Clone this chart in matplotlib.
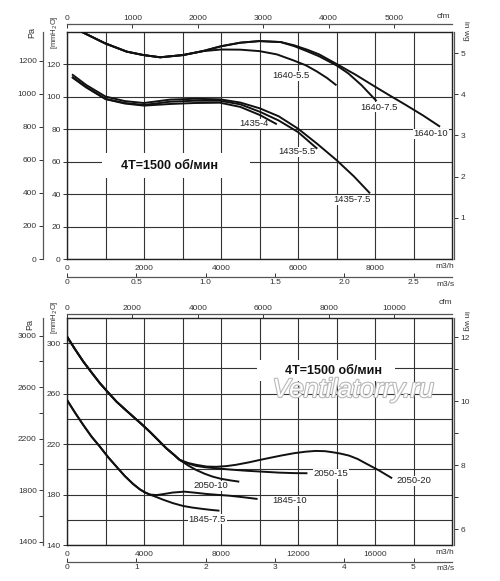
import matplotlib
matplotlib.use('Agg')
import matplotlib.pyplot as plt
from matplotlib.patches import Rectangle
import matplotlib.patheffects as pe

plt.rcParams['font.family'] = ['Liberation Sans', 'DejaVu Sans']

# ---------------- unit conversions ----------------
PA_PER_MM = 9.80665
MM_PER_INWG = 25.4
M3H_PER_CFM = 1.699011
M3H_PER_M3S = 3600.0

# ---------------- TOP CHART DATA (m3/h, mmH2O) ----------------
top_x_1640_55 = [390, 990, 1550, 1980, 2420, 3020, 3540, 4000, 4500, 5000, 5450, 5880, 6200, 6480, 6750, 7000]
top_y_1640_55 = [140, 133, 127.9, 125.8, 124.4, 125.8, 128.2, 129.2, 129.1, 128.2, 126.2, 122.5, 119.5, 115.8, 111.7, 107.1]
top_x_1640_75 = [390, 990, 1550, 1980, 2420, 3020, 3540, 4000, 4500, 5000, 5550, 5900, 6250, 6550, 7000, 7300, 7650, 8040]
top_y_1640_75 = [140, 133, 127.9, 125.8, 124.4, 125.8, 128.3, 131.2, 133.4, 134.4, 133.8, 131.3, 128.0, 125.0, 119.4, 114.6, 107.2, 97.4]
top_x_1640_10 = [390, 990, 1550, 1980, 2420, 3020, 3540, 4000, 4500, 5000, 5550, 5900, 6250, 6550, 7000, 7500, 8000, 8400, 8800, 9250, 9690]
top_y_1640_10 = [140, 133, 127.9, 125.8, 124.4, 125.8, 128.3, 131.2, 133.4, 134.4, 133.8, 131.8, 129.0, 126.2, 120.3, 113.6, 106.3, 100.6, 95.0, 88.5, 81.6]
top_x_1435_75 = [130, 500, 1000, 1500, 2000, 2675, 3300, 3970, 4500, 5010, 5500, 6000, 6500, 7000, 7450, 7870]
top_y_1435_75 = [113.9, 107.3, 100.2, 97.4, 96.2, 98.3, 98.8, 98.5, 96.5, 92.9, 88.0, 80.4, 71.0, 61.0, 51.0, 40.5]
top_x_1435_55 = [130, 500, 1000, 1500, 2000, 2675, 3300, 3970, 4500, 5010, 5500, 6000, 6500]
top_y_1435_55 = [112.4, 106.0, 98.8, 96.2, 95.0, 97.0, 97.6, 97.6, 95.4, 90.8, 85.4, 78.3, 68.0]
top_x_1435_4 = [130, 500, 1000, 1500, 2000, 2675, 3300, 3970, 4500, 5010, 5450]
top_y_1435_4 = [112.1, 105.8, 98.6, 95.9, 94.6, 95.6, 96.2, 96.4, 93.8, 88.8, 83.1]

top_names = ["1640-5.5", "1640-7.5", "1640-10", "1435-4", "1435-5.5", "1435-7.5"]
top_label_x = [5817, 8103, 9453, 4856, 5973, 7401]
top_label_y = [112.9, 93.7, 77.1, 83.3, 66.0, 36.4]

# ---------------- BOTTOM CHART DATA (m3/h, mmH2O) ----------------
x_2050_common = [0, 414, 844, 1276, 1708, 2139, 2570, 3002, 3433, 3865, 4295, 4727, 5158, 5590, 5850]
y_2050_common = [305.3, 295.3, 285.5, 276.8, 268.3, 260.9, 253.7, 247.7, 241.8, 236.0, 229.9, 223.3, 216.7, 211.1, 207.5]
x_2050_10 = x_2050_common + [6300, 6710, 7150, 7570, 8000, 8500, 8950]
y_2050_10 = y_2050_common + [203.0, 199.5, 196.5, 194.2, 192.5, 191.2, 190.2]
x_2050_15 = x_2050_common + [6300, 6710, 7200, 7750, 8500, 9300, 10200, 11000, 11800, 12490]
y_2050_15 = y_2050_common + [204.6, 202.7, 201.6, 200.8, 199.8, 198.9, 198.1, 197.4, 197.0, 196.9]
x_2050_20 = x_2050_common + [6300, 6710, 7250, 7750, 8300, 8780, 9470, 10000, 10600, 11150, 11800,
                             12400, 12920, 13400, 13780, 14200, 14650, 15100, 15510, 16200, 16890]
y_2050_20 = y_2050_common + [205.0, 203.6, 202.2, 202.0, 202.6, 203.6, 205.6, 207.4, 209.3, 211.0, 212.8,
                             214.0, 214.6, 214.4, 213.6, 212.5, 210.9, 208.2, 204.8, 199.2, 192.9]
x_1845_common = [0, 414, 844, 1276, 1708, 2139, 2570, 3002, 3433, 3778, 4037, 4300]
y_1845_common = [255.0, 245.0, 235.2, 225.9, 218.0, 209.6, 202.1, 194.7, 188.4, 184.2, 181.8, 180.0]
x_1845_10 = x_1845_common + [4650, 4980, 5500, 6100, 6700, 7230, 7800, 8430, 9200, 9900]
y_1845_10 = y_1845_common + [179.6, 180.3, 181.6, 182.3, 181.4, 180.5, 179.8, 179.1, 177.8, 176.5]
x_1845_75 = x_1845_common + [4650, 4980, 5500, 6020, 6500, 7050, 7500, 7920]
y_1845_75 = y_1845_common + [178.0, 176.0, 173.2, 171.0, 169.7, 168.6, 167.8, 167.2]

bot_names = ["2050-10", "1845-7.5", "1845-10", "2050-15", "2050-20"]
bot_label_x = [7452, 7297, 11540, 13714, 18009]
bot_label_y = [186.8, 160.6, 174.9, 196.3, 190.8]

# ---------------- tick definitions ----------------
top_m3h_major = [0, 2000, 4000, 6000, 8000]
top_m3h_grid = [1000, 3000, 5000, 7000, 9000]
top_mm_major = [0, 20, 40, 60, 80, 100, 120]
top_pa_major = [0, 200, 400, 600, 800, 1000, 1200]
top_inwg_major = [1, 2, 3, 4, 5]
top_cfm_major = [0, 1000, 2000, 3000, 4000, 5000]
top_m3s_major = [0, 0.5, 1.0, 1.5, 2.0, 2.5]
top_m3s_labels = ["0", "0.5", "1.0", "1.5", "2.0", "2.5"]

bot_m3h_major = [0, 4000, 8000, 12000, 16000]
bot_m3h_grid = [2000, 6000, 10000, 14000, 18000]
bot_mm_major = [140, 180, 220, 260, 300]
bot_mm_grid = [160, 200, 240, 280]
bot_pa_major = [1400, 1800, 2200, 2600, 3000]
bot_pa_minor = [1600, 2000, 2400, 2800]
bot_inwg_major = [6, 8, 10, 12]
bot_inwg_minor = [7, 9, 11]
bot_cfm_major = [0, 2000, 4000, 6000, 8000, 10000]
bot_m3s_major = [0, 1, 2, 3, 4, 5]

W, H = 500, 581
fig = plt.figure(figsize=(W / 100, H / 100), dpi=100)
TICK_C = '#333333'
LINE_C = '#111111'


def rect_px(l, t, r, b):
    return [l / W, 1 - b / H, (r - l) / W, (b - t) / H]


def ftext(x, y, s, **kw):
    kw.setdefault('fontsize', 6)
    kw.setdefault('color', TICK_C)
    fig.text(x / W, 1 - y / H, s, ha=kw.pop('ha', 'center'), va=kw.pop('va', 'center'), **kw)


def main_axes(rect, xlim, ylim, xmaj, xgrid, ymaj, ygrid):
    ax = fig.add_axes(rect)
    ax.set_xlim(*xlim)
    ax.set_ylim(*ylim)
    ax.set_xticks(xmaj)
    ax.set_xticks(xgrid, minor=True)
    ax.set_yticks(ymaj)
    ax.set_yticks(ygrid, minor=True)
    ax.grid(which='both', color='#333333', lw=0.8)
    ax.tick_params(axis='x', which='both', length=0, pad=4, labelsize=6, labelcolor=TICK_C)
    ax.tick_params(axis='y', which='major', length=3, width=0.7, pad=1.5, labelsize=6,
                   labelcolor=TICK_C, color=TICK_C)
    ax.tick_params(axis='y', which='minor', length=0)
    for s in ax.spines.values():
        s.set_linewidth(1.0)
        s.set_color('#222222')
    return ax


def extra_axis(rect, side, lim, major, offset, labels=None, minor=None, direction='out'):
    a = fig.add_axes(rect)
    a.patch.set_visible(False)
    for k, s in a.spines.items():
        s.set_visible(k == side)
    a.spines[side].set_position(('outward', offset))
    a.spines[side].set_color('#555555')
    a.spines[side].set_linewidth(0.9)
    if side in ('left', 'right'):
        a.set_ylim(*lim)
        a.set_xticks([])
        a.yaxis.set_ticks_position(side)
        a.set_yticks(major)
        if minor:
            a.set_yticks(minor, minor=True)
        if labels:
            a.set_yticklabels(labels)
        axname = 'y'
    else:
        a.set_xlim(*lim)
        a.set_yticks([])
        a.xaxis.set_ticks_position(side)
        a.set_xticks(major)
        if labels:
            a.set_xticklabels(labels)
        axname = 'x'
    a.tick_params(axis=axname, which='major', direction=direction, length=3, width=0.7,
                  pad=1.5, labelsize=6, labelcolor=TICK_C, color=TICK_C)
    a.tick_params(axis=axname, which='minor', direction=direction, length=3, width=0.7, color=TICK_C)
    return a


def decorate(rect, xmax, ymin, ymax, m3h_major, m3h_grid, mm_major, mm_grid,
             pa_major, pa_minor, inwg_major, inwg_minor, cfm_major, m3s_major, m3s_labels,
             cfm_off, m3s_off):
    ax = main_axes(rect, (0, xmax), (ymin, ymax), m3h_major, m3h_grid, mm_major, mm_grid)
    extra_axis(rect, 'left', (ymin * PA_PER_MM, ymax * PA_PER_MM), pa_major, 17.3, minor=pa_minor)
    extra_axis(rect, 'right', (ymin / MM_PER_INWG, ymax / MM_PER_INWG), inwg_major, 1.5, minor=inwg_minor)
    extra_axis(rect, 'top', (0, xmax / M3H_PER_CFM), cfm_major, cfm_off, direction='in')
    extra_axis(rect, 'bottom', (0, xmax / M3H_PER_M3S), m3s_major, m3s_off,
               labels=m3s_labels, direction='in')
    return ax


def draw_curves(ax, curves, names, lx, ly):
    for xs, ys in curves:
        ax.plot(xs, ys, color=LINE_C, lw=1.4, zorder=3, solid_capstyle='butt')
    for n, x, y in zip(names, lx, ly):
        ax.text(x, y, n, fontsize=6.8, color='#222222', ha='center', va='center', zorder=2.2,
                bbox=dict(facecolor='white', edgecolor='none', pad=0.6))


# ---------------- TOP CHART ----------------
ax1 = decorate(rect_px(67, 32, 452, 259), 10000, 0, 140,
               top_m3h_major, top_m3h_grid, top_mm_major, [],
               top_pa_major, None, top_inwg_major, None,
               top_cfm_major, top_m3s_major, top_m3s_labels, 5.8, 12.7)
draw_curves(ax1, [(top_x_1640_55, top_y_1640_55), (top_x_1640_75, top_y_1640_75),
                  (top_x_1640_10, top_y_1640_10), (top_x_1435_75, top_y_1435_75),
                  (top_x_1435_55, top_y_1435_55), (top_x_1435_4, top_y_1435_4)],
            top_names, top_label_x, top_label_y)
ax1.add_patch(Rectangle((0.091, 0.357), 0.384, 0.11, transform=ax1.transAxes,
                        facecolor='white', edgecolor='none', zorder=2))
ax1.text(0.2675, 0.41, "4T=1500 об/мин", transform=ax1.transAxes, fontsize=9,
         fontweight='bold', color='#111111', ha='center', va='center', zorder=4)

ftext(32, 32, "Pa", rotation=90, fontsize=6.5)
ftext(55, 32, "[mmH$_2$O]", rotation=90, fontsize=5.5)
ftext(443, 17, "cfm")
ftext(466, 31, "in wg", rotation=270)
ftext(445, 267, "m3/h")
ftext(445, 284, "m3/s")

# ---------------- BOTTOM CHART ----------------
ax2 = decorate(rect_px(67, 318, 452, 545), 20000, 140, 320,
               bot_m3h_major, bot_m3h_grid, bot_mm_major, bot_mm_grid,
               bot_pa_major, bot_pa_minor, bot_inwg_major, bot_inwg_minor,
               bot_cfm_major, bot_m3s_major, None, 2.9, 12.0)
draw_curves(ax2, [(x_2050_10, y_2050_10), (x_2050_15, y_2050_15), (x_2050_20, y_2050_20),
                  (x_1845_10, y_1845_10), (x_1845_75, y_1845_75)],
            bot_names, bot_label_x, bot_label_y)
ax2.add_patch(Rectangle((0.494, 0.723), 0.358, 0.092, transform=ax2.transAxes,
                        facecolor='white', edgecolor='none', zorder=2))
ax2.text(0.691, 0.767, "4T=1500 об/мин", transform=ax2.transAxes, fontsize=9,
         fontweight='bold', color='#111111', ha='center', va='center', zorder=4)
ax2.text(0.743, 0.683, "Ventilatorry.ru", transform=ax2.transAxes, fontsize=19,
         style='italic', color='white', ha='center', va='center', zorder=5,
         path_effects=[pe.withStroke(linewidth=1.6, foreground='#b8b8b8')])

ftext(30, 325, "Pa", rotation=90, fontsize=6.5)
ftext(55, 317, "[mmH$_2$O]", rotation=90, fontsize=5.5)
ftext(445, 303, "cfm")
ftext(466, 321, "in wg", rotation=270)
ftext(445, 553, "m3/h")
ftext(445, 569, "m3/s")

fig.savefig("out.png", dpi=100, facecolor='white')
